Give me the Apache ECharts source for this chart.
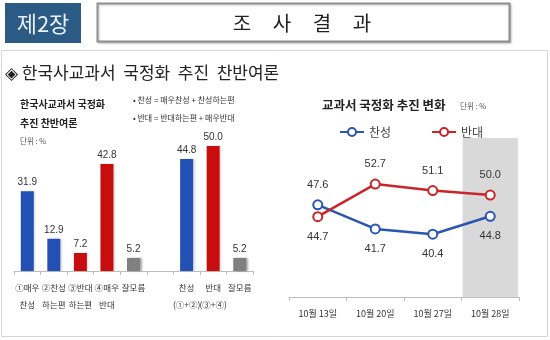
<!DOCTYPE html>
<html>
<head>
<meta charset="utf-8">
<script src="https://cdn.jsdelivr.net/npm/echarts@6/dist/echarts.min.js"></script>
<style>
  html, body { margin: 0; padding: 0; background: #ffffff; }
  #chart { width: 550px; height: 340px; }
</style>
</head>
<body>
<div id="chart"></div>
<script>
// 한국사교과서 국정화 찬반 – 응답 분포 (막대)
const answerLabels = ['①매우\n찬성', '②찬성\n하는편', '③반대\n하는편', '④매우\n반대', '잘모름', '', '찬성\n(①+②)', '반대\n(③+④)', '잘모름'];
const answerShares = [31.9, 12.9, 7.2, 42.8, 5.2, null, 44.8, 50.0, 5.2];
const answerSides  = ['pro', 'pro', 'con', 'con', 'unsure', null, 'pro', 'con', 'unsure'];

// 주간 추이 (꺾은선)
const surveyWeeks = ['10월 13일', '10월 20일', '10월 27일', '10월 28일'];
const proTrend = [47.6, 41.7, 40.4, 44.8];
const conTrend = [44.7, 52.7, 51.1, 50.0];
const latestWeek = '10월 28일';

const KR = "'Noto Sans CJK KR', 'Noto Sans', sans-serif";
const NUM = "'Liberation Sans', Arial, sans-serif";
const sideColor = { pro: '#2250b3', con: '#c70d0d', unsure: '#808080' };
const BLUE = '#2a56b0', RED = '#c8262b';

const chart = echarts.init(document.getElementById('chart'), null, { renderer: 'canvas' });

const barData = answerShares.map((v, i) => v == null ? null : {
  value: v,
  itemStyle: {
    color: sideColor[answerSides[i]],
    shadowColor: answerSides[i] === 'unsure' ? 'rgba(0,0,0,0.35)' : 'rgba(0,0,0,0.15)',
    shadowBlur: 2, shadowOffsetX: 1.5, shadowOffsetY: 0
  }
});

const bandData = surveyWeeks.map(w => w === latestWeek ? 1 : null);

function pointLabels(values, others) {
  return values.map((v, i) => ({
    value: v,
    label: { position: v >= others[i] ? 'top' : 'bottom' }
  }));
}

const option = {
  animation: false,
  backgroundColor: '#ffffff',
  textStyle: { fontFamily: KR },
  grid: [
    { left: 14, width: 239, top: 121, height: 150 },
    { left: 289, right: 31, top: 138, bottom: 43 }
  ],
  xAxis: [
    {
      gridIndex: 0, type: 'category', data: answerLabels,
      axisLine: { lineStyle: { color: '#bdbdbd', width: 1 } },
      axisTick: { show: true, length: 4, lineStyle: { color: '#bdbdbd' } },
      axisLabel: { interval: 0, fontSize: 8.5, color: '#333', lineHeight: 17, margin: 8, fontFamily: KR }
    },
    {
      gridIndex: 1, type: 'category', data: surveyWeeks,
      axisLine: { lineStyle: { color: '#bdbdbd', width: 1 } },
      axisTick: { show: true, length: 4, lineStyle: { color: '#bdbdbd' } },
      axisLabel: { interval: 0, fontSize: 9, color: '#333', margin: 12, fontFamily: KR }
    }
  ],
  yAxis: [
    { gridIndex: 0, type: 'value', min: 0, max: 60, show: false },
    { gridIndex: 1, type: 'value', min: 25, max: 64, show: false },
    { gridIndex: 1, type: 'value', min: 0, max: 1, show: false }
  ],
  legend: {
    data: ['찬성', '반대'],
    left: 334, top: 121,
    itemWidth: 24, itemHeight: 10, itemGap: 40,
    textStyle: { fontSize: 12, color: '#444', fontFamily: KR }
  },
  series: [
    {
      type: 'bar', xAxisIndex: 0, yAxisIndex: 0,
      data: barData, barWidth: 13,
      label: {
        show: true, position: 'top', distance: 4,
        fontSize: 10, color: '#333', fontFamily: NUM,
        formatter: p => p.value.toFixed(1)
      }
    },
    {
      // 최근 조사 주 강조 음영
      type: 'bar', xAxisIndex: 1, yAxisIndex: 2,
      data: bandData, barWidth: '96%', silent: true, z: 0,
      itemStyle: { color: '#d9d9d9' }
    },
    {
      name: '찬성', type: 'line', xAxisIndex: 1, yAxisIndex: 1,
      data: pointLabels(proTrend, conTrend),
      color: BLUE, z: 3,
      lineStyle: { width: 2.5, color: BLUE },
      symbol: 'emptyCircle', symbolSize: 9,
      itemStyle: { color: BLUE, borderWidth: 2.2, borderColor: BLUE },
      label: { show: true, distance: 9, fontSize: 11, color: '#333', fontFamily: NUM, formatter: p => p.value.toFixed(1) }
    },
    {
      name: '반대', type: 'line', xAxisIndex: 1, yAxisIndex: 1,
      data: pointLabels(conTrend, proTrend),
      color: RED, z: 3,
      lineStyle: { width: 2.5, color: RED },
      symbol: 'emptyCircle', symbolSize: 9,
      itemStyle: { color: RED, borderWidth: 2.2, borderColor: RED },
      label: { show: true, distance: 9, fontSize: 11, color: '#333', fontFamily: NUM, formatter: p => p.value.toFixed(1) }
    }
  ],
  graphic: [
    // 바깥 테두리
    { type: 'rect', shape: { x: 1.5, y: 50.5, width: 546, height: 286 }, style: { fill: 'none', stroke: '#d6d6d6', lineWidth: 1 }, z: -1 },
    // 머리 상자
    { type: 'rect', shape: { x: 5, y: 3, width: 76, height: 40 }, style: { fill: '#2b5b85' } },
    { type: 'text', x: 43, y: 24, style: { text: '제2장', fill: '#e8f0f8', font: "22px 'Noto Sans CJK KR'", align: 'center', verticalAlign: 'middle' } },
    { type: 'rect', shape: { x: 97.5, y: 3.5, width: 412, height: 38 }, style: { fill: '#ffffff', stroke: '#8f8f8f', lineWidth: 2, shadowColor: 'rgba(0,0,0,0.2)', shadowBlur: 2, shadowOffsetX: 1, shadowOffsetY: 1 } },
    { type: 'text', x: 242, y: 23, style: { text: '조', fill: '#222', font: "20px 'Noto Sans CJK KR'", align: 'center', verticalAlign: 'middle' } },
    { type: 'text', x: 282, y: 23, style: { text: '사', fill: '#222', font: "20px 'Noto Sans CJK KR'", align: 'center', verticalAlign: 'middle' } },
    { type: 'text', x: 322, y: 23, style: { text: '결', fill: '#222', font: "20px 'Noto Sans CJK KR'", align: 'center', verticalAlign: 'middle' } },
    { type: 'text', x: 362, y: 23, style: { text: '과', fill: '#222', font: "20px 'Noto Sans CJK KR'", align: 'center', verticalAlign: 'middle' } },
    // 부제
    { type: 'text', x: 5, y: 73, style: { text: '◈ 한국사교과서  국정화  추진  찬반여론', fill: '#222', font: "17px 'Noto Sans CJK KR'", verticalAlign: 'middle' } },
    // 왼쪽 차트 제목
    { type: 'text', x: 20, y: 104, style: { text: '한국사교과서 국정화', fill: '#222', font: "bold 10px 'Noto Sans CJK KR'", verticalAlign: 'middle' } },
    { type: 'text', x: 20, y: 123, style: { text: '추진 찬반여론', fill: '#222', font: "bold 10px 'Noto Sans CJK KR'", verticalAlign: 'middle' } },
    { type: 'text', x: 20, y: 141, style: { text: '단위 : %', fill: '#555', font: "7.5px 'Noto Sans CJK KR'", verticalAlign: 'middle' } },
    { type: 'text', x: 133, y: 100, style: { text: '• 찬성 = 매우찬성 + 찬성하는편', fill: '#333', font: "8px 'Noto Sans CJK KR'", verticalAlign: 'middle' } },
    { type: 'text', x: 133, y: 118, style: { text: '• 반대 = 반대하는편 + 매우반대', fill: '#333', font: "8px 'Noto Sans CJK KR'", verticalAlign: 'middle' } },
    // 오른쪽 차트 제목
    { type: 'text', x: 322, y: 105, style: { text: '교과서 국정화 추진 변화', fill: '#222', font: "bold 12.5px 'Noto Sans CJK KR'", verticalAlign: 'middle' } },
    { type: 'text', x: 460, y: 106, style: { text: '단위 : %', fill: '#555', font: "7.5px 'Noto Sans CJK KR'", verticalAlign: 'middle' } }
  ]
};

chart.setOption(option);
</script>
</body>
</html>
